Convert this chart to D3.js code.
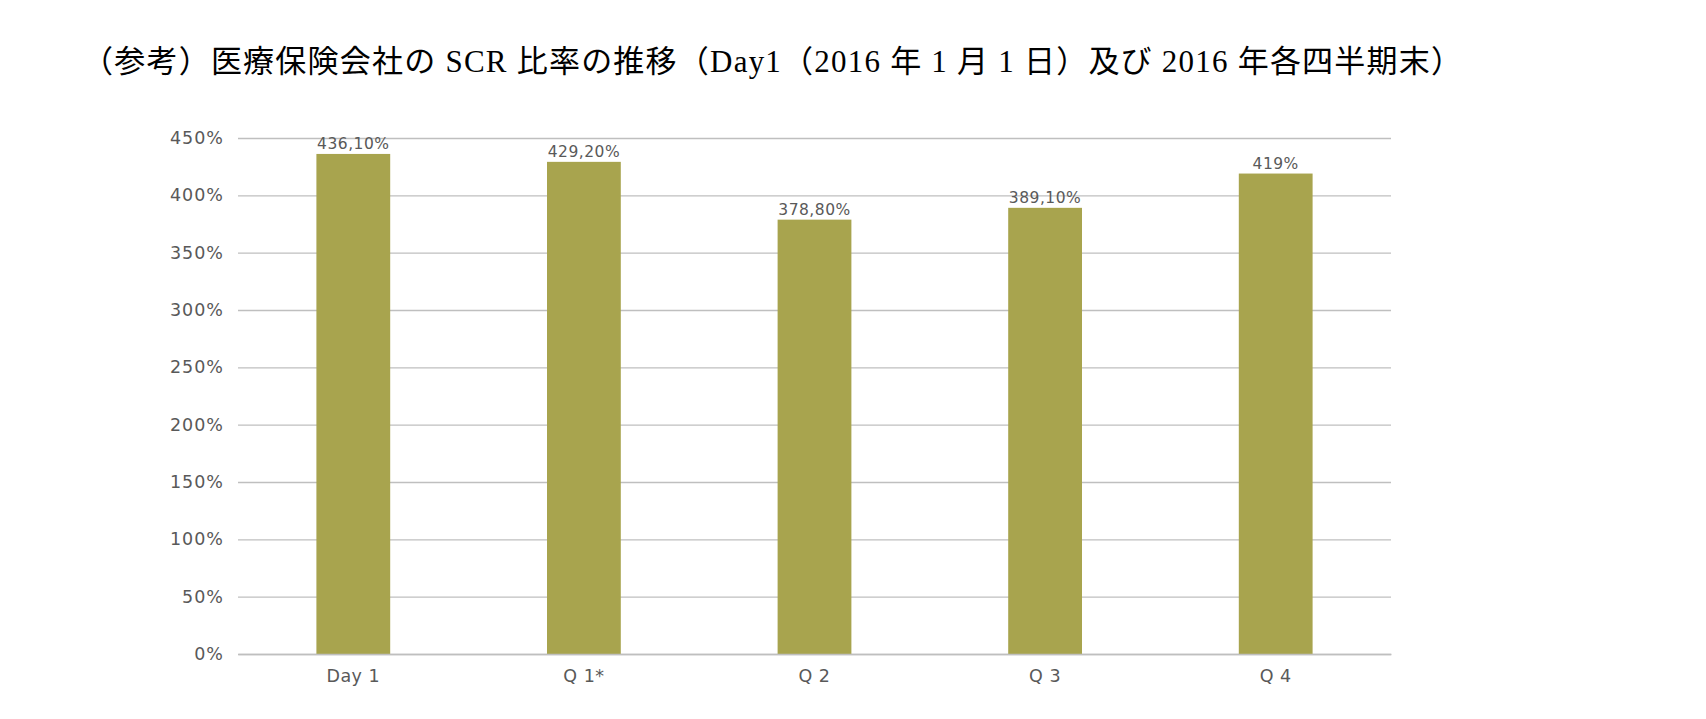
<!DOCTYPE html><html><head><meta charset="utf-8"><script src="https://cdn.jsdelivr.net/npm/d3@7"></script>
<style>body{margin:0;background:#fff}</style></head><body><svg id="c" width="1706" height="719"></svg>
<script>
const categories=["Day 1","Q 1*","Q 2","Q 3","Q 4"];
const values=[436.1,429.2,378.8,389.1,419];
const valueLabels=["436,10%","429,20%","378,80%","389,10%","419%"];
const yTicks=[0,50,100,150,200,250,300,350,400,450];
const svg=d3.select("#c");
const m={l:238,r:1391,t:138,b:654};
const x=d3.scaleBand().domain(categories).range([m.l,m.r]).paddingInner(0.68).paddingOuter(0.34);
const y=d3.scaleLinear().domain([0,450]).range([m.b,m.t]);
svg.append("text").attr("x",82).attr("y",72).attr("font-family","Liberation Serif, Noto Sans CJK JP").attr("font-size",31).attr("fill","#000")
 .attr("textLength",1380).attr("lengthAdjust","spacing")
 .text("（参考）医療保険会社の SCR 比率の推移（Day1（2016 年 1 月 1 日）及び 2016 年各四半期末）");
const ya=svg.append("g").attr("transform",`translate(${m.l},0)`).call(d3.axisLeft(y).tickValues(yTicks).tickSize(-(m.r-m.l)).tickFormat(d=>d+"%").tickPadding(14));
ya.select(".domain").remove();
ya.selectAll("line").attr("stroke","#bfbfbf").attr("stroke-width",1.3);
ya.selectAll("text").attr("font-family","DejaVu Sans, Verdana").attr("font-size",17.5).attr("letter-spacing",1).attr("fill","#595959");
svg.selectAll(".bar").data(values).join("rect").attr("x",(d,i)=>x(categories[i])).attr("width",x.bandwidth())
 .attr("y",d=>y(d)).attr("height",d=>y(0)-y(d)).attr("fill","#a8a44e");
svg.selectAll(".vl").data(values).join("text").attr("x",(d,i)=>x(categories[i])+x.bandwidth()/2).attr("y",d=>y(d)-5)
 .attr("text-anchor","middle").attr("font-family","DejaVu Sans, Verdana").attr("font-size",15.5).attr("letter-spacing",0.5).attr("fill","#595959").text((d,i)=>valueLabels[i]);
const xa=svg.append("g").attr("transform",`translate(0,${m.b})`).call(d3.axisBottom(x).tickSize(0).tickPadding(16));
xa.select(".domain").attr("stroke","#bfbfbf").attr("stroke-width",1.3);
xa.selectAll("text").attr("font-family","DejaVu Sans, Verdana").attr("font-size",17.5).attr("letter-spacing",0.5).attr("fill","#595959");
</script></body></html>
